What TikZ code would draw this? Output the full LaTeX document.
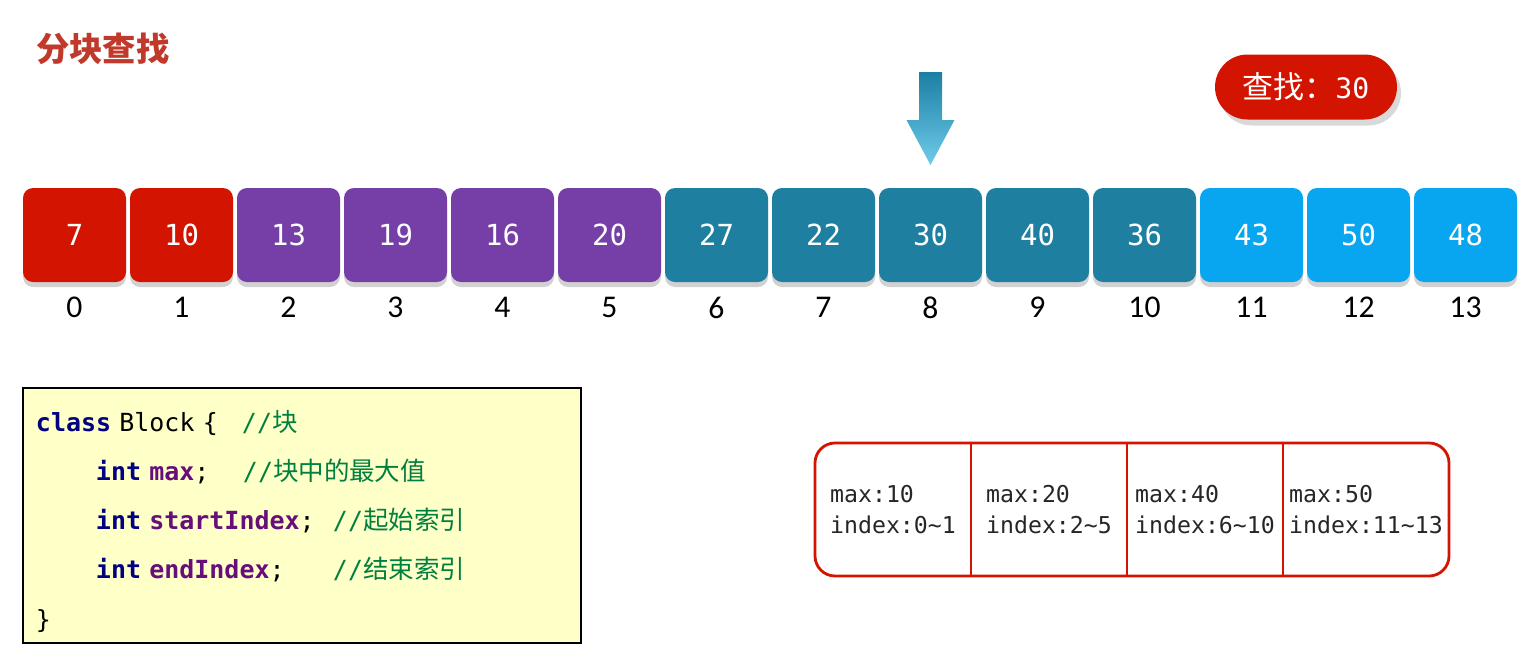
\documentclass[tikz,border=0pt]{standalone}
\usepackage{fontspec}
\usepackage{tikz}
\usetikzlibrary{
  positioning,
  calc,
  shadows
}
\usepackage{xcolor}
\setmainfont{Carlito}
\newfontfamily\cjkfont{Noto Sans CJK SC}
\newfontfamily\codefont{DejaVu Sans Mono}
\definecolor{bsred}{HTML}{D21400}
\definecolor{bspurple}{HTML}{763FA8}
\definecolor{bsteal}{HTML}{1E7FA0}
\definecolor{bsblue}{HTML}{08A5F0}
\definecolor{bstitle}{HTML}{C0392B}
\definecolor{bsarrowtop}{HTML}{1B7FA3}
\definecolor{bsarrowbot}{HTML}{6FCBEB}
\definecolor{bscode}{HTML}{FFFFC8}
\definecolor{kwnavy}{HTML}{000080}
\definecolor{fldpurple}{HTML}{660E7A}
\definecolor{cmtgreen}{HTML}{008040}
\newcommand{\kwd}[1]{{\bfseries\color{kwnavy}#1}}
\newcommand{\fld}[1]{{\bfseries\color{fldpurple}#1}}
\newcommand{\cmnt}[1]{{\color{cmtgreen}//{\cjkfont\fontsize{14.5pt}{28pt}\selectfont #1}}}

\begin{document}
\begin{tikzpicture}[
  cell/.style={minimum width=2.06cm, minimum height=1.88cm, rounded corners=0.2cm,
    text=white, inner sep=0pt, outer sep=0pt,
    font=\codefont\fontsize{16.5pt}{18pt}\selectfont,
    drop shadow={shadow xshift=0pt, shadow yshift=-0.1cm, fill=black!18, opacity=1}},
  cellred/.style={cell, fill=bsred},
  cellpurple/.style={cell, fill=bspurple},
  cellteal/.style={cell, fill=bsteal},
  cellblue/.style={cell, fill=bsblue},
  idx/.style={inner sep=0pt, font=\fontsize{18pt}{20pt}\selectfont},
  pill/.style={fill=bsred, text=white, rounded corners=0.65cm,
    minimum width=3.64cm, minimum height=1.3cm,
    font=\codefont\fontsize{16pt}{18pt}\selectfont,
    drop shadow={shadow xshift=0.08cm, shadow yshift=-0.12cm, fill=black!15, opacity=1}},
  codebox/.style={draw=black, line width=0.8pt, fill=bscode, align=left,
    text width=10.64cm, inner xsep=0.26cm, minimum height=5.1cm,
    font=\codefont\fontsize{14.2pt}{28pt}\selectfont},
  blk/.style={minimum width=3.12cm, minimum height=2.66cm, inner sep=0pt,
    outer sep=0pt, align=left, text=black!85,
    font=\codefont\fontsize{13.2pt}{17.6pt}\selectfont},
  frame/.style={draw=bsred, line width=1.6pt}
]
  \useasboundingbox (0,0) rectangle (30.6,-13.3);

  \node[anchor=west, text=bstitle, font=\cjkfont\bfseries\fontsize{19pt}{22pt}\selectfont]
    (title) at (0.60,-0.98) {分块查找};

  % the array
  \node[cellred] (c0) at (1.49,-4.70) {7};
  \node[cellred, right=0.08cm of c0] (c1) {10};
  \node[cellpurple, right=0.08cm of c1] (c2) {13};
  \node[cellpurple, right=0.08cm of c2] (c3) {19};
  \node[cellpurple, right=0.08cm of c3] (c4) {16};
  \node[cellpurple, right=0.08cm of c4] (c5) {20};
  \node[cellteal, right=0.08cm of c5] (c6) {27};
  \node[cellteal, right=0.08cm of c6] (c7) {22};
  \node[cellteal, right=0.08cm of c7] (c8) {30};
  \node[cellteal, right=0.08cm of c8] (c9) {40};
  \node[cellteal, right=0.08cm of c9] (c10) {36};
  \node[cellblue, right=0.08cm of c10] (c11) {43};
  \node[cellblue, right=0.08cm of c11] (c12) {50};
  \node[cellblue, right=0.08cm of c12] (c13) {48};

  \node[idx, below=0.3cm of c0] (n0) {0};
  \node[idx, below=0.3cm of c1] (n1) {1};
  \node[idx, below=0.3cm of c2] (n2) {2};
  \node[idx, below=0.3cm of c3] (n3) {3};
  \node[idx, below=0.3cm of c4] (n4) {4};
  \node[idx, below=0.3cm of c5] (n5) {5};
  \node[idx, below=0.3cm of c6] (n6) {6};
  \node[idx, below=0.3cm of c7] (n7) {7};
  \node[idx, below=0.3cm of c8] (n8) {8};
  \node[idx, below=0.3cm of c9] (n9) {9};
  \node[idx, below=0.3cm of c10] (n10) {10};
  \node[idx, below=0.3cm of c11] (n11) {11};
  \node[idx, below=0.3cm of c12] (n12) {12};
  \node[idx, below=0.3cm of c13] (n13) {13};

  % pointer onto the found element
  \shade[top color=bsarrowtop, bottom color=bsarrowbot, shift={(c8.north)}]
    (-0.23,2.32) -- (-0.23,1.36) -- (-0.48,1.36) -- (0,0.46)
    -- (0.48,1.36) -- (0.23,1.36) -- (0.23,2.32) -- cycle;

  \node[pill] (goal) at (26.12,-1.74)
    {{\cjkfont\fontsize{17.6pt}{20pt}\selectfont 查找：}30};

  % block class
  \node[codebox] (code) at (6.04,-10.31) {%
    \rule{0pt}{0.65cm}\makebox[4.12cm][l]{\kwd{class} Block \{}\cmnt{块}\\
    \makebox[4.14cm][l]{\hspace*{1.2cm}\kwd{int} \fld{max};}\cmnt{块中的最大值}\\
    \makebox[5.94cm][l]{\hspace*{1.2cm}\kwd{int} \fld{startIndex};}\cmnt{起始索引}\\
    \makebox[5.94cm][l]{\hspace*{1.2cm}\kwd{int} \fld{endIndex};}\cmnt{结束索引}\\
    \}};

  % index table
  \node[blk] (b1) at (17.86,-10.19) {max:10\\index:0\textasciitilde 1};
  \node[blk, right=0cm of b1] (b2) {max:20\\index:2\textasciitilde 5};
  \node[blk, right=0cm of b2] (b3) {max:40\\index:6\textasciitilde 10};
  \node[blk, minimum width=3.32cm, right=0cm of b3] (b4) {max:50\\index:11\textasciitilde 13};

  \draw[frame, rounded corners=0.4cm] (b1.north west) rectangle (b4.south east);
  \draw[frame] (b1.north east) -- (b1.south east);
  \draw[frame] (b2.north east) -- (b2.south east);
  \draw[frame] (b3.north east) -- (b3.south east);

\end{tikzpicture}
\end{document}
